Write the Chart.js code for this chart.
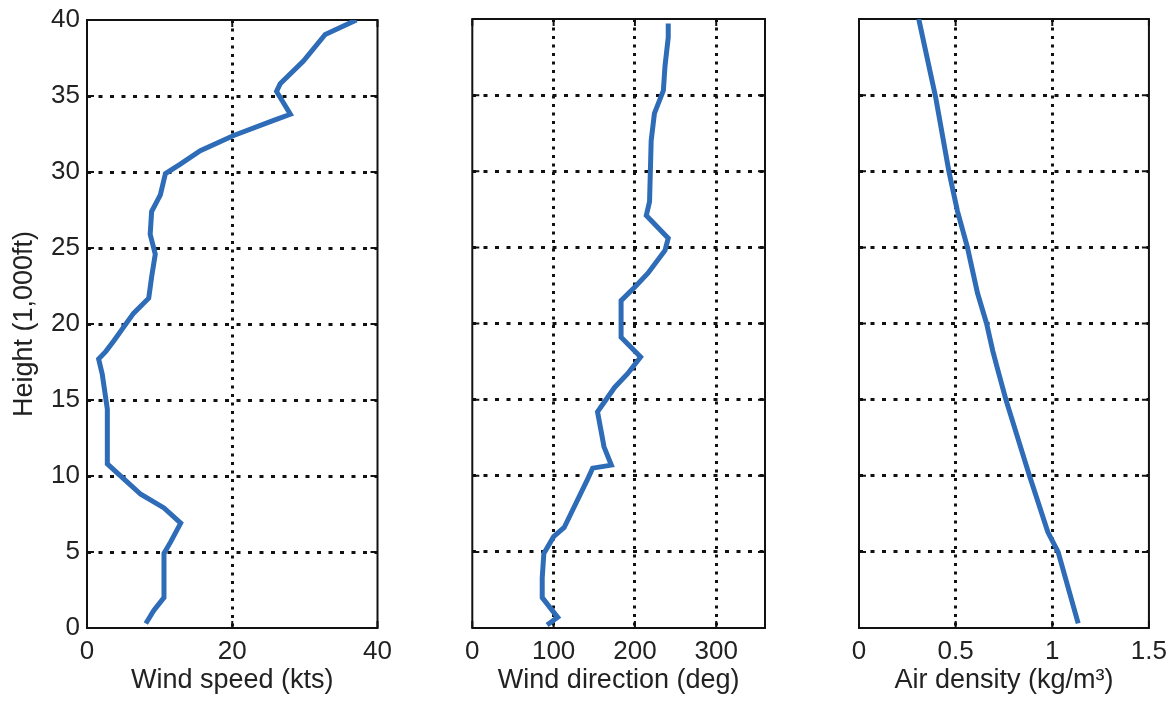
<!DOCTYPE html>
<html>
<head>
<meta charset="utf-8">
<script src="https://cdn.jsdelivr.net/npm/chart.js@4/dist/chart.umd.min.js"></script>
<style>
    body { margin: 0; background: #fff; }
    #wrap { position: relative; width: 1175px; height: 713px; }
    canvas { position: absolute; top: 0; }
</style>
</head>
<body>
<div id="wrap">
    <canvas id="speed" width="420" height="713" style="left:0px"></canvas>
    <canvas id="direction" width="400" height="713" style="left:420px"></canvas>
    <canvas id="density" width="355" height="713" style="left:820px"></canvas>
</div>
<script>
// height in 1,000 ft
const speedHeight = [0.3, 1.15, 2.0, 4.9, 5.65, 6.9, 7.9, 8.8, 9.8, 10.8, 14.4, 16.7, 17.7, 18.2, 18.9, 20.7, 21.7, 23.1, 24.6, 25.9, 27.4, 28.5, 29.9, 30.5, 31.4, 32.4, 33.4, 33.8, 35.3, 35.8, 37.3, 39.05, 40];
const speedKts = [8.1, 9.2, 10.6, 10.6, 11.5, 12.9, 10.6, 7.4, 5.1, 2.8, 2.8, 2.1, 1.6, 2.6, 3.7, 6.4, 8.5, 8.9, 9.4, 8.7, 8.9, 10.1, 10.8, 12.8, 15.6, 20.2, 25.7, 28.0, 26.1, 26.6, 29.8, 32.8, 37.1];

const dirHeight = [0.2, 0.7, 2.0, 3.3, 4.9, 6.0, 6.6, 9.8, 10.5, 10.7, 11.9, 14.2, 15.8, 16.7, 17.8, 19.1, 21.5, 22.4, 23.3, 24.8, 25.6, 27.1, 28.0, 32.0, 33.8, 35.3, 36.9, 38.8, 39.7];
const dirDeg = [92, 105, 86, 86, 88, 100, 113, 142, 148, 171, 162, 154, 175, 191, 207, 183, 183, 200, 216, 237, 241, 214, 218, 220, 224, 235, 237, 241, 241];

const densHeight = [0.3, 5, 6.3, 10, 15, 17.1, 18.2, 20, 22, 25, 27.4, 30, 34.9, 40];
const densKgm3 = [1.134, 1.03, 0.977, 0.882, 0.760, 0.715, 0.692, 0.660, 0.613, 0.561, 0.509, 0.465, 0.396, 0.309];

const heightTicks = [0, 5, 10, 15, 20, 25, 30, 35, 40];

const lineColor = '#2e6cb8';
const textColor = '#222';
const gridColor = '#111';

// box round the plot with small inward tick marks, like matlab axes
const boxPlugin = {
    id: 'box',
    beforeDatasetsDraw(chart) {
        const a = chart.chartArea;
        const ctx = chart.ctx;
        ctx.save();
        ctx.strokeStyle = gridColor;
        ctx.lineWidth = 2;
        ctx.strokeRect(a.left, a.top, a.right - a.left, a.bottom - a.top);
        const tl = 7;
        chart.scales.y.ticks.forEach(function (t) {
            const y = chart.scales.y.getPixelForValue(t.value);
            ctx.beginPath();
            ctx.moveTo(a.left, y); ctx.lineTo(a.left + tl, y);
            ctx.moveTo(a.right, y); ctx.lineTo(a.right - tl, y);
            ctx.stroke();
        });
        chart.scales.x.ticks.forEach(function (t) {
            const x = chart.scales.x.getPixelForValue(t.value);
            ctx.beginPath();
            ctx.moveTo(x, a.bottom); ctx.lineTo(x, a.bottom - tl);
            ctx.moveTo(x, a.top); ctx.lineTo(x, a.top + tl);
            ctx.stroke();
        });
        ctx.restore();
    }
};

function makePanel(id, heights, values, xOpts) {
    const points = heights.map(function (h, i) { return { x: values[i], y: h }; });
    const tickFont = { family: 'Liberation Sans, Arial, sans-serif', size: 26 };
    const yTickFont = { family: 'Liberation Sans, Arial, sans-serif', size: 26, lineHeight: 1 };
    const titleFont = { family: 'Liberation Sans, Arial, sans-serif', size: 27 };
    const first = xOpts.first;

    new Chart(document.getElementById(id), {
        type: 'scatter',
        data: {
            datasets: [{
                data: points,
                showLine: true,
                borderColor: lineColor,
                borderWidth: 5,
                pointRadius: 0,
                tension: 0
            }]
        },
        options: {
            responsive: false,
            animation: false,
            layout: { padding: { left: xOpts.padLeft, right: xOpts.padRight, top: 19, bottom: 0 } },
            plugins: { legend: { display: false }, tooltip: { enabled: false } },
            scales: {
                x: {
                    type: 'linear',
                    min: 0,
                    max: xOpts.max,
                    afterBuildTicks: function (scale) {
                        scale.ticks = xOpts.ticks.map(function (v) { return { value: v }; });
                    },
                    afterFit: function (scale) { scale.height = 85; },
                    ticks: {
                        font: tickFont,
                        color: textColor,
                        padding: 8,
                        maxRotation: 0,
                        callback: function (v) { return String(v); }
                    },
                    grid: {
                        color: function (c) {
                            return (c.tick && (c.tick.value === 0 || c.tick.value === xOpts.max)) ? 'rgba(0,0,0,0)' : gridColor;
                        },
                        lineWidth: 3,
                        drawTicks: false
                    },
                    border: { display: false, dash: [3, 5.5] },
                    title: {
                        display: true,
                        text: xOpts.title,
                        font: titleFont,
                        color: textColor,
                        padding: { top: 0, bottom: 16 }
                    }
                },
                y: {
                    type: 'linear',
                    min: 0,
                    max: 40,
                    afterBuildTicks: function (scale) {
                        scale.ticks = heightTicks.map(function (v) { return { value: v }; });
                    },
                    afterFit: function (scale) { scale.width = first ? 87 : 0; },
                    ticks: {
                        display: first,
                        font: yTickFont,
                        color: textColor,
                        padding: 7
                    },
                    grid: {
                        color: function (c) {
                            return (c.tick && (c.tick.value === 0 || c.tick.value === 40)) ? 'rgba(0,0,0,0)' : gridColor;
                        },
                        lineWidth: 3,
                        drawTicks: false
                    },
                    border: { display: false, dash: [4, 7.5] },
                    title: {
                        display: first,
                        text: 'Height (1,000ft)',
                        font: titleFont,
                        color: textColor,
                        padding: { top: 8, bottom: 0 }
                    }
                }
            }
        },
        plugins: [boxPlugin]
    });
}

makePanel('speed', speedHeight, speedKts, {
    first: true, max: 40, ticks: [0, 20, 40], title: 'Wind speed (kts)', padLeft: 0, padRight: 42.5
});
makePanel('direction', dirHeight, dirDeg, {
    first: false, max: 360, ticks: [0, 100, 200, 300], title: 'Wind direction (deg)', padLeft: 52.3, padRight: 55
});
makePanel('density', densHeight, densKgm3, {
    first: false, max: 1.5, ticks: [0, 0.5, 1, 1.5], title: 'Air density (kg/m\u00B3)', padLeft: 39, padRight: 25
});
</script>
</body>
</html>
